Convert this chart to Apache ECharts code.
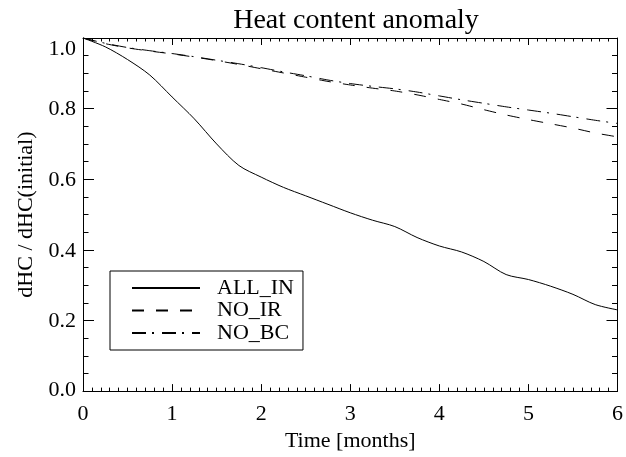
<!DOCTYPE html>
<html>
<head>
<meta charset="utf-8">
<script src="https://cdn.jsdelivr.net/npm/echarts@6/dist/echarts.min.js"></script>
<style>html,body{margin:0;padding:0;background:#fff}#c{width:626px;height:457px}</style>
</head>
<body>
<div id="c"></div>
<script>
var months = [0, 0.25, 0.5, 0.75, 1, 1.25, 1.5, 1.75, 2, 2.25, 2.5, 2.75, 3, 3.25, 3.5, 3.75, 4, 4.25, 4.5, 4.75, 5, 5.25, 5.5, 5.75, 6];
var allIn = [1.000, 0.975, 0.939, 0.895, 0.833, 0.771, 0.700, 0.639, 0.606, 0.577, 0.553, 0.529, 0.505, 0.484, 0.466, 0.435, 0.411, 0.394, 0.367, 0.330, 0.316, 0.297, 0.274, 0.245, 0.230];
var noIr = [1.000, 0.984, 0.972, 0.963, 0.955, 0.946, 0.936, 0.925, 0.913, 0.901, 0.889, 0.877, 0.867, 0.858, 0.850, 0.839, 0.826, 0.813, 0.797, 0.782, 0.769, 0.757, 0.745, 0.731, 0.720];
var noBc = [1.000, 0.985, 0.973, 0.964, 0.956, 0.947, 0.937, 0.927, 0.916, 0.904, 0.893, 0.881, 0.871, 0.863, 0.856, 0.847, 0.836, 0.825, 0.815, 0.805, 0.796, 0.787, 0.777, 0.767, 0.758];
var seriesNames = ['ALL_IN', 'NO_IR', 'NO_BC'];
var titleText = 'Heat content anomaly';
var xName = 'Time [months]';
var yName = 'dHC / dHC(initial)';

function pairs(ys) { return months.map(function (m, i) { return [m, ys[i]]; }); }

var FONT = 'Liberation Serif';
var chart = echarts.init(document.getElementById('c'), null, { renderer: 'canvas' });

var commonX = {
  type: 'value', min: 0, max: 6, interval: 1,
  axisLine: { show: true, onZero: false, lineStyle: { color: '#000', width: 1 } },
  axisTick: { show: true, inside: true, length: 7, lineStyle: { color: '#000', width: 1 } },
  minorTick: { show: true, splitNumber: 10, length: 3.5, lineStyle: { color: '#000', width: 1 } },
  splitLine: { show: false }, minorSplitLine: { show: false }
};
var commonY = {
  type: 'value', min: 0, max: 1, interval: 0.2,
  axisLine: { show: true, onZero: false, lineStyle: { color: '#000', width: 1 } },
  axisTick: { show: true, inside: true, length: 11, lineStyle: { color: '#000', width: 1 } },
  minorTick: { show: true, splitNumber: 4, length: 5.5, lineStyle: { color: '#000', width: 1 } },
  splitLine: { show: false }, minorSplitLine: { show: false }
};

var option = {
  backgroundColor: '#fff',
  animation: false,
  title: {
    text: titleText, left: 351, top: 2, textAlign: 'center',
    textStyle: { fontFamily: FONT, fontSize: 28, fontWeight: 'normal', color: '#000' }
  },
  grid: { left: 83, right: 7, top: 38, bottom: 63, containLabel: false },
  legend: {
    orient: 'vertical', left: 110, top: 271,
    padding: [6, 9, 6, 21], itemGap: 0.5, itemWidth: 68, itemHeight: 10,
    borderColor: '#000', borderWidth: 1, backgroundColor: '#fff',
    itemStyle: { color: 'rgba(0,0,0,0)', borderWidth: 0, opacity: 0 },
    data: seriesNames,
    textStyle: { fontFamily: FONT, fontSize: 22, color: '#000', lineHeight: 22, padding: [0, 0, 0, 12] }
  },
  xAxis: [
    Object.assign({}, commonX, {
      position: 'bottom', name: xName, nameLocation: 'middle', nameGap: 34,
      nameTextStyle: { fontFamily: FONT, fontSize: 22, color: '#000' },
      axisLabel: { show: true, margin: 12, fontFamily: FONT, fontSize: 22, color: '#000' }
    }),
    Object.assign({}, commonX, { position: 'top', axisLabel: { show: false } })
  ],
  yAxis: [
    Object.assign({}, commonY, {
      position: 'left', name: yName, nameLocation: 'middle', nameGap: 37, nameRotate: 90,
      nameTextStyle: { fontFamily: FONT, fontSize: 22, color: '#000' },
      axisLabel: {
        show: true, margin: 7, fontFamily: FONT, fontSize: 22, color: '#000',
        formatter: function (v) {
          var s = v.toFixed(1);
          if (Math.abs(v - 1) < 1e-9) return '{top|' + s + '}';
          if (Math.abs(v) < 1e-9) return '{bot|' + s + '}';
          return '{n|' + s + '}';
        },
        rich: {
          top: { fontFamily: FONT, fontSize: 22, color: '#000', padding: [22, 0, 0, 0] },
          bot: { fontFamily: FONT, fontSize: 22, color: '#000', padding: [0, 0, 2, 0] },
          n: { fontFamily: FONT, fontSize: 22, color: '#000', padding: [2, 0, 0, 0] }
        }
      }
    }),
    Object.assign({}, commonY, { position: 'right', axisLabel: { show: false } })
  ],
  series: [
    { name: seriesNames[0], type: 'line', data: pairs(allIn), symbol: 'none', smooth: 0.3,
      lineStyle: { color: '#000', width: 1, type: 'solid' }, itemStyle: { color: '#000' } },
    { name: seriesNames[1], type: 'line', data: pairs(noIr), symbol: 'none', smooth: 0.25,
      lineStyle: { color: '#000', width: 1, type: [12, 12] }, itemStyle: { color: '#000' } },
    { name: seriesNames[2], type: 'line', data: pairs(noBc), symbol: 'none', smooth: 0.25,
      lineStyle: { color: '#000', width: 1, type: [14, 6, 2, 8] }, itemStyle: { color: '#000' } }
  ]
};
chart.setOption(option);
</script>
</body>
</html>
